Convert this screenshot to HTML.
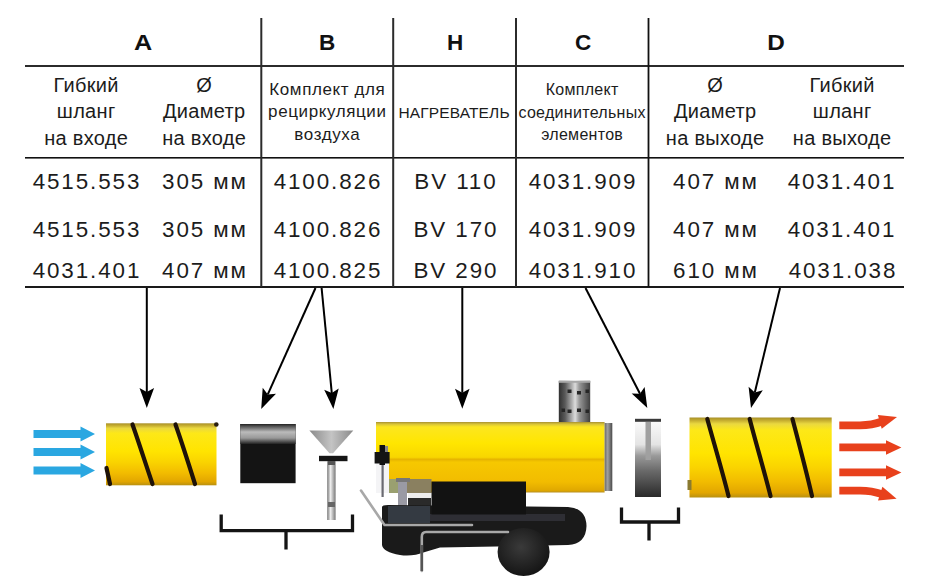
<!DOCTYPE html>
<html><head><meta charset="utf-8">
<style>
html,body{margin:0;padding:0;background:#fff;}
body{width:940px;height:582px;position:relative;overflow:hidden;font-family:"Liberation Sans",sans-serif;color:#1c1c1c;}
.t{position:absolute;white-space:nowrap;text-align:center;transform:translateX(-50%);line-height:1;}
.h{font-weight:bold;font-size:22.5px;color:#111;}
.s20{font-size:20px;letter-spacing:0.3px;padding-left:0.3px;line-height:26.75px !important;}
.s17{font-size:17px;letter-spacing:0.6px;padding-left:0.6px;}
.s16{font-size:16px;letter-spacing:0.3px;padding-left:0.3px;}
.s15{font-size:15.5px;letter-spacing:0.15px;padding-left:0.15px;}
.d{font-size:22.4px;letter-spacing:1.9px;padding-left:1.9px;}
svg{position:absolute;left:0;top:0;}
</style></head><body>
<svg width="940" height="582" viewBox="0 0 940 582">
  <!-- table lines -->
  <g fill="#2b2b2b">
    <rect x="25" y="65" width="879" height="2"/>
    <rect x="25" y="157" width="879" height="1.6" fill="#111"/>
    <rect x="25" y="286" width="879" height="2" fill="#1a1a1a"/>
    <rect x="260.3" y="18" width="2" height="269"/>
    <rect x="392.2" y="18" width="2" height="269"/>
    <rect x="515" y="18" width="2" height="269"/>
    <rect x="647.6" y="18" width="1.8" height="269" fill="#111"/>
  </g>

  <defs>
    <linearGradient id="hoseG" x1="0" y1="0" x2="0" y2="1">
      <stop offset="0" stop-color="#a89028"/>
      <stop offset="0.04" stop-color="#c8b030"/>
      <stop offset="0.08" stop-color="#ead840"/>
      <stop offset="0.16" stop-color="#fde818"/>
      <stop offset="0.45" stop-color="#ffe400"/>
      <stop offset="0.62" stop-color="#fad400"/>
      <stop offset="0.8" stop-color="#f2bc00"/>
      <stop offset="0.94" stop-color="#e2a600"/>
      <stop offset="1" stop-color="#b89010"/>
    </linearGradient>
    <linearGradient id="heatG" x1="0" y1="0" x2="0" y2="1">
      <stop offset="0" stop-color="#a89030"/>
      <stop offset="0.03" stop-color="#d8c438"/>
      <stop offset="0.07" stop-color="#fce620"/>
      <stop offset="0.3" stop-color="#ffe600"/>
      <stop offset="0.5" stop-color="#f8d600"/>
      <stop offset="0.53" stop-color="#e6b400"/>
      <stop offset="0.57" stop-color="#f6c800"/>
      <stop offset="0.85" stop-color="#f2bc00"/>
      <stop offset="0.97" stop-color="#e0a800"/>
      <stop offset="1" stop-color="#b89020"/>
    </linearGradient>
    <linearGradient id="capG" x1="0" y1="0" x2="1" y2="0">
      <stop offset="0" stop-color="#6a6a6a"/>
      <stop offset="0.4" stop-color="#a0a0a0"/>
      <stop offset="1" stop-color="#4a4a4a"/>
    </linearGradient>
    <linearGradient id="chimG" x1="0" y1="0" x2="1" y2="0">
      <stop offset="0" stop-color="#303030"/>
      <stop offset="0.2" stop-color="#5a5a5a"/>
      <stop offset="0.42" stop-color="#b0b0b0"/>
      <stop offset="0.52" stop-color="#dcdcdc"/>
      <stop offset="0.65" stop-color="#999"/>
      <stop offset="0.85" stop-color="#666"/>
      <stop offset="1" stop-color="#404040"/>
    </linearGradient>
    <linearGradient id="cylTop" x1="0" y1="0" x2="0" y2="1">
      <stop offset="0" stop-color="#222"/>
      <stop offset="0.12" stop-color="#555"/>
      <stop offset="0.4" stop-color="#bbb"/>
      <stop offset="0.7" stop-color="#999"/>
      <stop offset="1" stop-color="#222"/>
    </linearGradient>
    <linearGradient id="cG" x1="0" y1="0" x2="0" y2="1">
      <stop offset="0" stop-color="#fafafa"/>
      <stop offset="0.3" stop-color="#e4e4e4"/>
      <stop offset="0.45" stop-color="#9a9a9a"/>
      <stop offset="0.65" stop-color="#6a6a6a"/>
      <stop offset="1" stop-color="#2a2a2a"/>
    </linearGradient>
    <linearGradient id="funG" x1="0" y1="0" x2="1" y2="0">
      <stop offset="0" stop-color="#8a8a8a"/>
      <stop offset="0.5" stop-color="#c4c4c4"/>
      <stop offset="1" stop-color="#8a8a8a"/>
    </linearGradient>
    <linearGradient id="stemG" x1="0" y1="0" x2="1" y2="0">
      <stop offset="0" stop-color="#777"/>
      <stop offset="0.4" stop-color="#eee"/>
      <stop offset="1" stop-color="#777"/>
    </linearGradient>
    <radialGradient id="wheelG" cx="0.45" cy="0.4" r="0.6">
      <stop offset="0" stop-color="#3a3a3a"/>
      <stop offset="1" stop-color="#151515"/>
    </radialGradient>
  </defs>

  <!-- connecting arrows -->
  <g stroke="#000" stroke-width="2" fill="none">
    <line x1="146.8" y1="288" x2="146.8" y2="392"/>
    <line x1="315.5" y1="288" x2="267.8" y2="394.4"/>
    <line x1="321.6" y1="288" x2="331.8" y2="393.1"/>
    <line x1="462.3" y1="288" x2="462.3" y2="392.8"/>
    <line x1="585.5" y1="288" x2="640.0" y2="393.8"/>
    <line x1="780.0" y1="288" x2="754.8" y2="392.4"/>
  </g>
  <g fill="#000">
    <polygon points="146.8,408.0 139.5,388.0 146.8,392.0 154.1,388.0"/>
    <polygon points="261.2,409.0 262.7,387.8 267.8,394.4 276.0,393.7"/>
    <polygon points="333.4,409.0 324.2,389.8 331.8,393.1 338.7,388.4"/>
    <polygon points="462.3,408.8 455.0,388.8 462.3,392.8 469.6,388.8"/>
    <polygon points="647.3,408.0 631.7,393.6 640.0,393.8 644.6,386.9"/>
    <polygon points="751.0,408.0 748.6,386.8 754.8,392.4 762.8,390.3"/>
  </g>

  <!-- blue arrows -->
  <g fill="#2aa7e1">
    <polygon points="33.5,430 80.5,430 80.5,426.5 95,434 80.5,441.5 80.5,438 33.5,438"/>
    <polygon points="33.5,448 80.5,448 80.5,444.5 95,452 80.5,459.5 80.5,456 33.5,456"/>
    <polygon points="33.5,466.4 80.5,466.4 80.5,462.9 95,470.4 80.5,477.9 80.5,474.4 33.5,474.4"/>
  </g>

  <!-- hose A -->
  <rect x="106" y="423.3" width="110.5" height="62" fill="url(#hoseG)"/>
  <g stroke="#1e1208" stroke-width="4.2" fill="none" stroke-linecap="round">
    <path d="M132.5,424.5 C138,440 146,465 152.5,484"/>
    <path d="M175.5,424.5 C181,440 189,465 195,484"/>
    <path d="M106.5,468 L110,484"/>
  </g>
  <circle cx="216.3" cy="424.5" r="2.3" fill="#2a2010"/>

  <!-- black cylinder B -->
  <rect x="240.3" y="424" width="55.3" height="59.2" fill="#141414"/>
  <rect x="240.3" y="424" width="55.3" height="20" fill="url(#cylTop)"/>

  <!-- funnel B -->
  <polygon points="309.4,430.6 353.3,430.6 333,453.3 329.5,453.3" fill="url(#funG)"/>
  <rect x="319" y="455.8" width="28.5" height="5.4" fill="#151515"/>
  <rect x="327.2" y="461" width="8.4" height="59" fill="url(#stemG)"/>
  <rect x="328" y="461" width="7" height="4" fill="#555"/>
  <rect x="328" y="502" width="7" height="5" fill="#666"/>

  <!-- bracket B -->
  <path d="M221.2,514.5 V530.7 H352.5 V514.5 M286,530.7 V549.4" stroke="#141414" stroke-width="3.3" fill="none"/>

  <!-- heater -->
  <rect x="558.8" y="380.8" width="31.4" height="42" fill="url(#chimG)"/>
  <rect x="558.8" y="380.8" width="31.4" height="2" fill="#a8a8a8"/>
  <g fill="#262626">
    <rect x="567.5" y="389.5" width="4" height="3.5"/><rect x="577" y="391" width="4" height="3.5"/><rect x="585.5" y="389.5" width="3.5" height="3.5"/>
    <rect x="561.5" y="408.5" width="3.5" height="3.5"/><rect x="567.5" y="409.5" width="4" height="3.5"/><rect x="577" y="408.5" width="4" height="3.5"/><rect x="585.5" y="409.5" width="3.5" height="3.5"/>
  </g>
  <rect x="376" y="422" width="228.6" height="70.5" fill="url(#heatG)"/>
  <rect x="604.6" y="423" width="7.7" height="68" fill="url(#capG)"/>
  <!-- left end details -->
  <rect x="376" y="463" width="13" height="30" fill="#f4f4f6"/>
  <rect x="381.5" y="463" width="2.2" height="34" fill="#6a6a72"/>
  <rect x="379.5" y="445" width="5.5" height="20" fill="#111"/>
  <rect x="374.6" y="452" width="15" height="11.5" fill="#141414"/>
  <rect x="385" y="446" width="3" height="6" fill="#888"/>
  <!-- burner area -->
  <rect x="389" y="479" width="42.5" height="14" fill="#8a8060"/>
  <rect x="389" y="479" width="10" height="14" fill="#9aa070"/>
  <rect x="398" y="480" width="9" height="26" fill="#9a9aa4"/>
  <rect x="396" y="478" width="14" height="4" fill="#777"/>
  <rect x="408" y="493" width="23" height="5" fill="#eee"/>
  <rect x="408" y="498" width="23" height="8" fill="#2a2a2a"/>
  <!-- base -->
  <path d="M382,507 Q382,505 388,505 L568,507 Q586,508 586.5,526 Q586,544 568,545 L440,547.5 L425,552 Q412,557 400,555 Q383,552 382,545 Z" fill="#1a1a1a"/>
  <path d="M388,506 L430,506 L430,523 L388,523 Z" fill="#343a42"/>
  <path d="M430,514 L565,514 L565,521 L430,521 Z" fill="#2e2e34"/>
  <!-- tank -->
  <rect x="431.5" y="481.5" width="94.5" height="33" fill="#121212"/>
  <!-- wheel -->
  <ellipse cx="523.6" cy="552" rx="26" ry="24" fill="url(#wheelG)"/>
  <!-- handles -->
  <g stroke="#a8a8a8" stroke-width="2.6" fill="none" stroke-linecap="round">
    <path d="M361,490.5 L384.5,525 L472,525"/>
    <path d="M508,532 L426,532 Q421.8,532 421.8,537 L421.8,571"/>
  </g>
  <path d="M421.8,545 L421.8,571" stroke="#555" stroke-width="2.6"/>

  <!-- C piece -->
  <rect x="635" y="422" width="26" height="75" fill="url(#cG)"/>
  <rect x="645.5" y="422" width="5.5" height="38" fill="#a0a0a0"/>
  <rect x="635" y="418.8" width="26" height="3" fill="#3a3a3a"/>
  <!-- bracket C -->
  <path d="M621.5,507.5 V522 H678.5 V507.5 M649,522 V540.5" stroke="#141414" stroke-width="3.3" fill="none"/>

  <!-- hose D -->
  <rect x="689.5" y="417.5" width="142.2" height="80" fill="url(#hoseG)"/>
  <g stroke="#1e1208" stroke-width="4.2" fill="none" stroke-linecap="round">
    <path d="M707.3,419 C713,440 722,470 728.5,496"/>
    <path d="M749.7,419 C755,440 764,470 770.5,496"/>
    <path d="M792.5,419 C798,440 806,470 812,496"/>
  </g>
  <rect x="687.5" y="480" width="4" height="10" fill="#8a7a30"/>

  <!-- red arrows -->
  <g stroke="#e8411c" stroke-width="7.8" fill="none">
    <path d="M839.3,425.3 L860,425.3 Q872,425.3 882,421.5"/>
    <path d="M839.3,490.6 L860,490.6 Q872,490.6 882,494.2"/>
  </g>
  <g fill="#e8411c">
    <polygon points="897.0,417.0 881.7,428.7 877.9,414.9"/>
    <polygon points="896.6,498.8 878.0,500.5 882.4,486.7"/>
    <polygon points="839.3,443.5 886,443.5 886,440.2 901.4,447.5 886,454.8 886,451.3 839.3,451.3"/>
    <polygon points="839.3,468.6 886,468.6 886,465.2 901.4,472.4 886,479.8 886,476.2 839.3,476.2"/>
  </g>
</svg>

<!-- header letters -->
<div class="t h" style="left:142.7px;top:31.55px;transform:translateX(-50%) scaleX(1.12);">A</div>
<div class="t h" style="left:327px;top:31.55px;">B</div>
<div class="t h" style="left:455px;top:31.55px;">H</div>
<div class="t h" style="left:583px;top:31.55px;">C</div>
<div class="t h" style="left:776px;top:31.55px;transform:translateX(-50%) scaleX(1.08);">D</div>

<!-- sub header -->
<div class="t s20" style="left:86px;top:71.5px;">Гибкий<br>шланг<br>на входе</div>
<div class="t s20" style="left:204px;top:71.5px;">Ø<br>Диаметр<br>на входе</div>
<div class="t s17" style="left:327px;top:78.5px;line-height:22.7px;">Комплект для<br>рециркуляции<br>воздуха</div>
<div class="t s15" style="left:454px;top:105.4px;">НАГРЕВАТЕЛЬ</div>
<div class="t s16" style="left:582px;top:79px;line-height:22.5px;">Комплект<br>соединительных<br>элементов</div>
<div class="t s20" style="left:715px;top:71.5px;">Ø<br>Диаметр<br>на выходе</div>
<div class="t s20" style="left:842px;top:71.5px;">Гибкий<br>шланг<br>на выходе</div>

<!-- data rows -->
<div class="t d" style="left:86px;top:171.4px;">4515.553</div>
<div class="t d" style="left:204px;top:171.4px;">305 мм</div>
<div class="t d" style="left:327px;top:171.4px;">4100.826</div>
<div class="t d" style="left:455px;top:171.4px;">BV 110</div>
<div class="t d" style="left:582px;top:171.4px;">4031.909</div>
<div class="t d" style="left:715px;top:171.4px;">407 мм</div>
<div class="t d" style="left:841px;top:171.4px;">4031.401</div>

<div class="t d" style="left:86px;top:218.6px;">4515.553</div>
<div class="t d" style="left:204px;top:218.6px;">305 мм</div>
<div class="t d" style="left:327px;top:218.6px;">4100.826</div>
<div class="t d" style="left:455px;top:218.6px;">BV 170</div>
<div class="t d" style="left:582px;top:218.6px;">4031.909</div>
<div class="t d" style="left:715px;top:218.6px;">407 мм</div>
<div class="t d" style="left:841px;top:218.6px;">4031.401</div>

<div class="t d" style="left:86px;top:259.6px;">4031.401</div>
<div class="t d" style="left:204px;top:259.6px;">407 мм</div>
<div class="t d" style="left:327px;top:259.6px;">4100.825</div>
<div class="t d" style="left:455px;top:259.6px;">BV 290</div>
<div class="t d" style="left:582px;top:259.6px;">4031.910</div>
<div class="t d" style="left:715px;top:259.6px;">610 мм</div>
<div class="t d" style="left:842px;top:259.6px;">4031.038</div>

</body></html>
